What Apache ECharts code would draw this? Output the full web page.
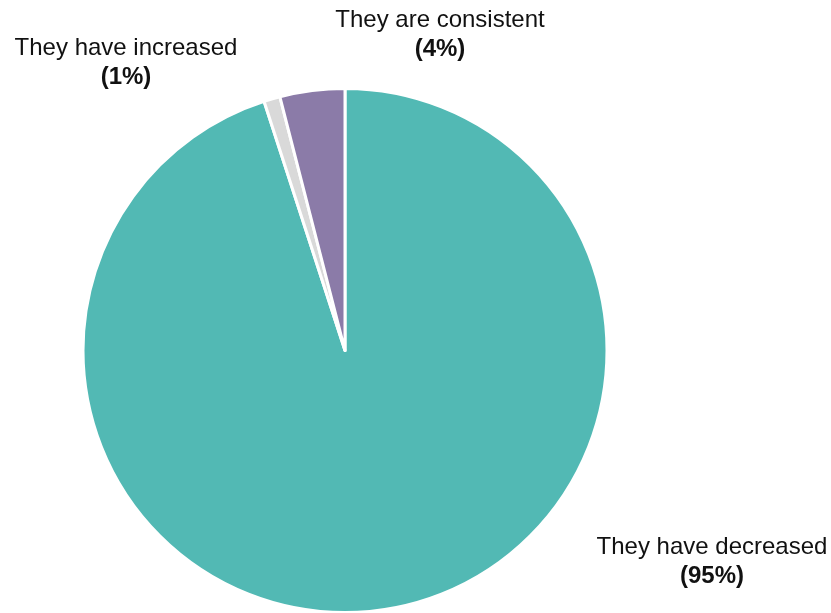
<!DOCTYPE html>
<html>
<head>
<meta charset="utf-8">
<style>
  html, body { margin: 0; padding: 0; background: #ffffff; }
  #chart { width: 831px; height: 613px; }
</style>
<script src="https://cdn.jsdelivr.net/npm/echarts@6/dist/echarts.min.js"></script>
</head>
<body>
<div id="chart"></div>
<script>
// Survey answers, in clockwise order from 12 o'clock
const categories = ['They have decreased', 'They have increased', 'They are consistent'];
const shares = [95, 1, 4];
const sliceColors = ['#52b9b4', '#d9d9d9', '#8b7ba8'];

// Where each two-line label block is centred
const labelAnchors = [
  { x: 712, y: 562 },
  { x: 126, y: 63 },
  { x: 440, y: 35 }
];

const labelFont = '"Liberation Sans", Arial, sans-serif';

const chart = echarts.init(document.getElementById('chart'), null, { renderer: 'canvas' });

chart.setOption({
  animation: false,
  backgroundColor: '#ffffff',
  series: [{
    type: 'pie',
    center: [345, 350.5],
    radius: [0, 262],
    startAngle: 90,
    clockwise: true,
    avoidLabelOverlap: false,
    data: categories.map((name, i) => ({
      name: name,
      value: shares[i],
      itemStyle: { color: sliceColors[i] }
    })),
    itemStyle: { borderColor: '#ffffff', borderWidth: 3 },
    label: {
      show: true,
      position: 'outside',
      formatter: p => '{n|' + p.name + '}\n{b|(' + p.value + '%)}',
      rich: {
        n: { fontFamily: labelFont, fontSize: 24, color: '#111111', lineHeight: 29, align: 'center' },
        b: { fontFamily: labelFont, fontSize: 24, fontWeight: 'bold', color: '#111111', lineHeight: 29, align: 'center' }
      }
    },
    labelLine: { show: false },
    labelLayout: params => ({
      x: labelAnchors[params.dataIndex].x,
      y: labelAnchors[params.dataIndex].y,
      align: 'center',
      verticalAlign: 'middle'
    }),
    emphasis: { disabled: true }
  }]
});
</script>
</body>
</html>
